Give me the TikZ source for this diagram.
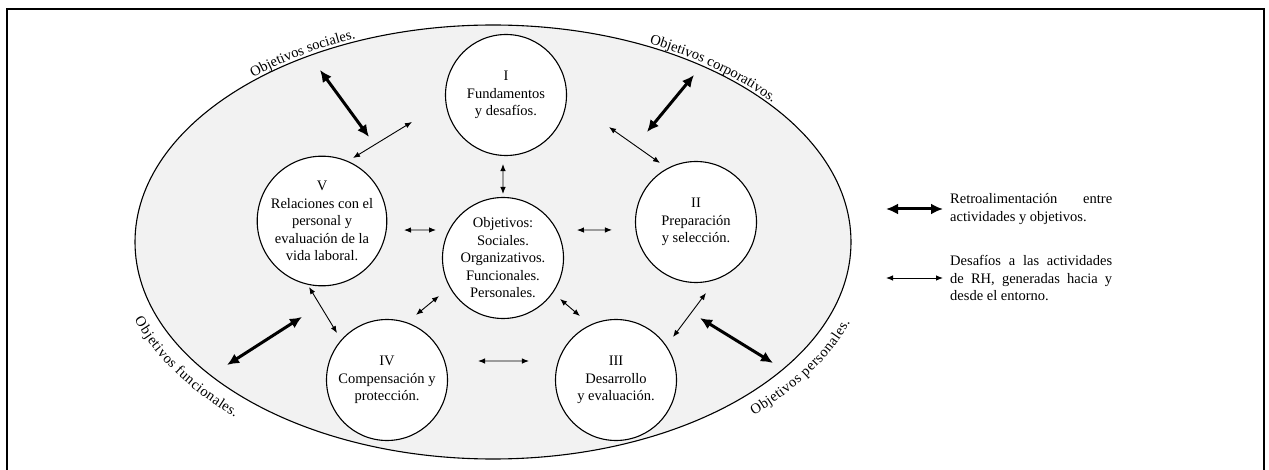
\documentclass[tikz,border=0pt]{standalone}
\usepackage{fontspec}
\setmainfont{Liberation Serif}
\usetikzlibrary{arrows.meta, calc, decorations.text, shapes.geometric}

\newcommand{\labfont}{\fontsize{14.5}{17.5}\selectfont}
\hyphenpenalty=10000
\exhyphenpenalty=10000

\begin{document}
\begin{tikzpicture}[
  x=1pt, y=-1pt,
  every node/.style={font=\labfont},
  activity/.style={draw, circle, fill=white, line width=1.1pt, minimum size=121pt, inner sep=0pt, align=center},
  challenge/.style={{Latex[length=7pt,width=5.5pt]}-{Latex[length=7pt,width=5.5pt]}, line width=0.9pt},
  feedback/.style={{Latex[length=12pt,width=11pt]}-{Latex[length=12pt,width=11pt]}, line width=3pt},
  legend/.style={anchor=west, text width=162pt, align=justify, inner sep=0pt}
]
\useasboundingbox (0,0) rectangle (1269,470);

% Frame
\draw[line width=1.3pt] (7,9) rectangle (1264,472);

% Environment
\node[draw, ellipse, fill=gray!10, line width=1.1pt, minimum width=716pt, minimum height=434pt, inner sep=0pt]
  (env) at (493,242) {};

% Objectives around the environment
\path[decorate, decoration={text along path, text align=center, raise=3pt,
  text={|\labfont|Objetivos sociales.}}]
  (env.center) ++(217:358 and 217) arc[start angle=217, end angle=257, x radius=358, y radius=217];
\path[decorate, decoration={text along path, text align=center, raise=3pt,
  text={|\labfont|Objetivos corporativos.}}]
  (env.center) ++(287:358 and 217) arc[start angle=287, end angle=332, x radius=358, y radius=217];
\path[decorate, decoration={text along path, text align=center, raise=-21pt,
  text={|\labfont|Objetivos funcionales.}}]
  (env.center) ++(171:358 and 217) arc[start angle=171, end angle=127, x radius=358, y radius=217];
\path[decorate, decoration={text along path, text align=center, raise=-21pt,
  text={|\labfont|Objetivos personales.}}]
  (env.center) ++(53:358 and 217) arc[start angle=53, end angle=9, x radius=358, y radius=217];

% Activities
\node[activity] (fund) at (506,95) {I\\Fundamentos\\y desafíos.};
\node[activity] (rel) at (322,221) {V\\Relaciones con el\\personal y\\evaluación de la\\vida laboral.};
\node[activity] (obj) at (503,258) {Objetivos:\\Sociales.\\Organizativos.\\Funcionales.\\Personales.};
\node[activity] (prep) at (696,222) {II\\Preparación\\y selección.};
\node[activity] (comp) at (387,380) {IV\\Compensación y\\protección.};
\node[activity] (desa) at (616,380) {III\\Desarrollo\\y evaluación.};

% Challenges between activities
\draw[challenge] ($(rel)+(-63.8:70.2)$) -- ($(fund)+(164:97.8)$);
\draw[challenge] ($(fund)+(92.5:69.1)$) -- ($(obj)+(-90:64)$);
\draw[challenge] ($(fund)+(17.3:107.9)$) -- ($(prep)+(-121.4:69.1)$);
\draw[challenge] ($(rel)+(6.3:82.5)$) -- ($(obj)+(-157.3:72.6)$);
\draw[challenge] ($(obj)+(-20.7:79.1)$) -- ($(prep)+(174.6:84.4)$);
\draw[challenge] ($(rel)+(101.1:67.3)$) -- ($(comp)+(-136.8:68.6)$);
\draw[challenge] ($(obj)+(149.3:74.4)$) -- ($(comp)+(-66:71.2)$);
\draw[challenge] ($(obj)+(35.7:70.2)$) -- ($(desa)+(-119.4:73.4)$);
\draw[challenge] ($(comp)+(-11.8:93)$) -- ($(desa)+(-167.7:89.1)$);
\draw[challenge] ($(prep)+(82:71.7)$) -- ($(desa)+(-37:71.4)$);

% Feedback with the objectives
\coordinate (socobj) at (320,70);
\coordinate (corpobj) at (694,75);
\coordinate (funcobj) at (227,365);
\coordinate (persobj) at (773,363);
\draw[feedback] (socobj) -- ($(rel)+(-60.8:96.3)$);
\draw[feedback] (corpobj) -- ($(prep)+(-118.6:102.5)$);
\draw[feedback] (funcobj) -- ($(rel)+(101.8:98)$);
\draw[feedback] (persobj) -- ($(desa)+(-36.4:104.4)$);

% Legend
\node[legend] (legfb) at (950,209) {Retroalimentación entre actividades y objetivos.};
\node[legend] (legch) at (950,278) {Desafíos a las actividades de RH, generadas hacia y desde el entorno.};
\draw[feedback] ([xshift=-64pt]legfb.west) -- ([xshift=-7pt]legfb.west);
\draw[challenge] ([xshift=-64pt]legch.west) -- ([xshift=-7pt]legch.west);

\end{tikzpicture}
\end{document}
